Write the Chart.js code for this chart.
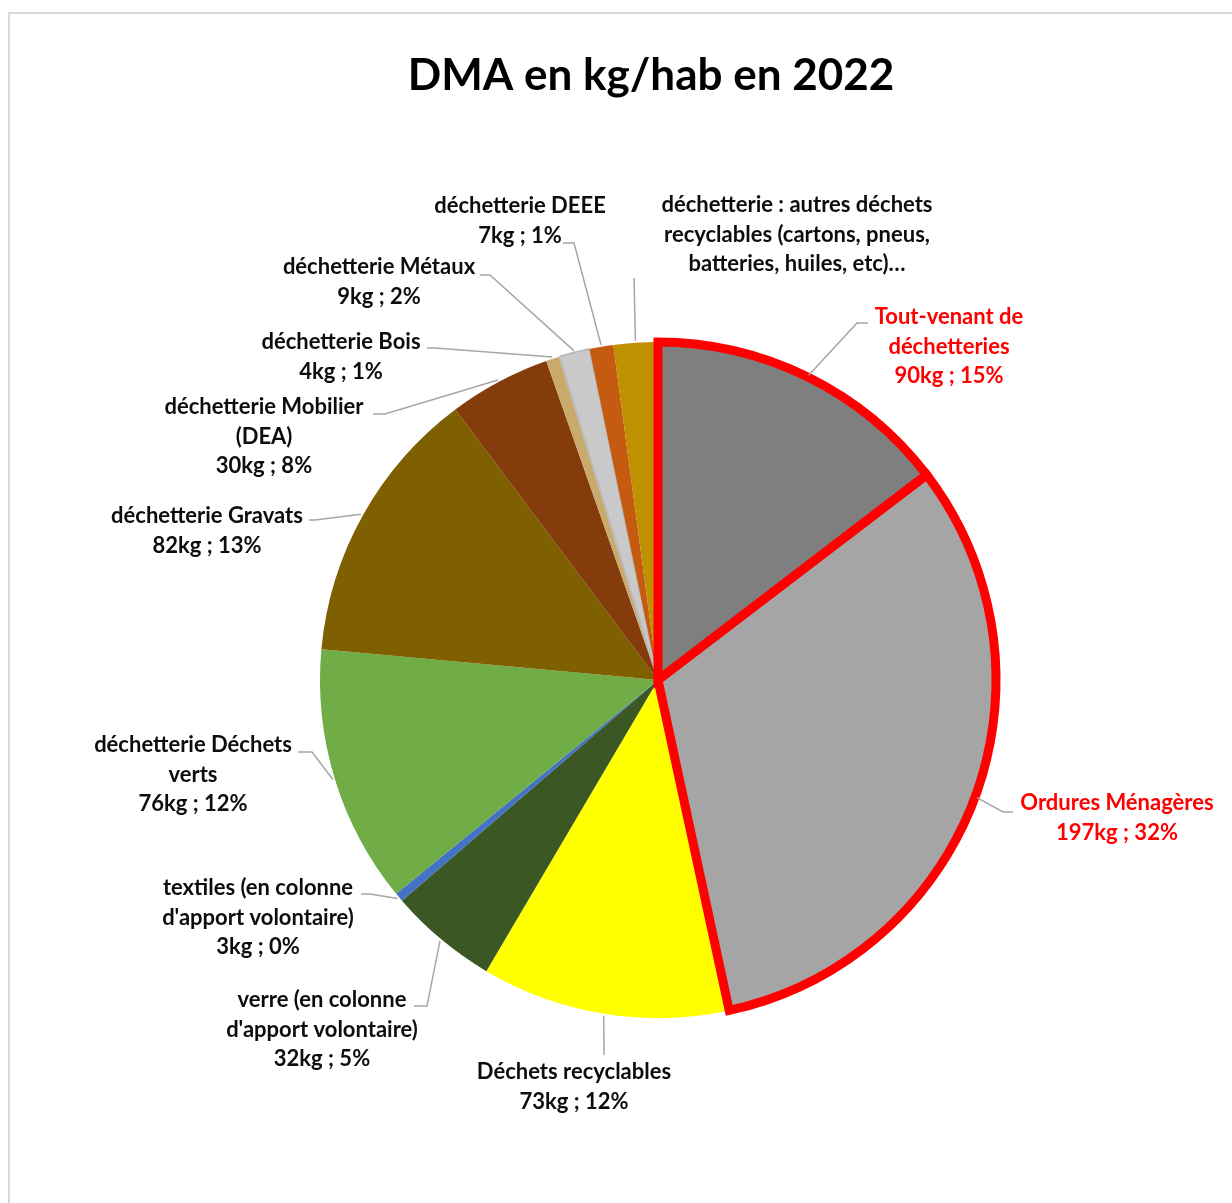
<!DOCTYPE html>
<html lang="fr">
<head>
<meta charset="utf-8">
<title>DMA en kg/hab en 2022</title>
<script src="https://cdn.jsdelivr.net/npm/chart.js@4.4.1/dist/chart.umd.min.js"></script>
<style>
  html, body { margin: 0; padding: 0; background: #fff; }
  canvas { display: block; }
</style>
</head>
<body>
<canvas id="dmaChart" width="1232" height="1203"></canvas>
<script>
// DONNÉES
const categories = [
    ['Tout-venant de', 'déchetteries'],
    ['Ordures Ménagères'],
    ['Déchets recyclables'],
    ['verre (en colonne', "d'apport volontaire)"],
    ['textiles (en colonne', "d'apport volontaire)"],
    ['déchetterie Déchets', 'verts'],
    ['déchetterie Gravats'],
    ['déchetterie Mobilier', '(DEA)'],
    ['déchetterie Bois'],
    ['déchetterie Métaux'],
    ['déchetterie DEEE'],
    ['déchetterie : autres déchets', 'recyclables (cartons, pneus,', 'batteries, huiles, etc)…']
];
const values = [90, 197, 73, 32, 2.6, 76, 82, 30, 4, 9, 7, 13];
const kgShown = [90, 197, 73, 32, 3, 76, 82, 30, 4, 9, 7, null];
const pctShown = [15, 32, 12, 5, 0, 12, 13, 8, 1, 2, 1, null];
const highlighted = [true, true, false, false, false, false, false, false, false, false, false, false];

const sliceColors = ['#7f7f7f', '#a5a5a5', '#ffff00', '#3a5724', '#4472c4', '#70ad47',
                     '#7f6000', '#843c0c', '#c9aa6c', '#c9c9c9', '#c55a11', '#bf9000'];

// position des étiquettes (décalage par rapport au centre du camembert)
const labelPos = [[291, -363], [459, 123], [-84, 392], [-336, 320], [-400, 208], [-465, 65],
                  [-451, -164], [-394, -273], [-317, -338], [-279, -413], [-138, -474], [139, -475]];
const leaderElbow = [[199, -357], [345, 132], [-54, 375], [-231, 326], [-288, 214], [-346, 72],
                     [-343, -160], [-273, -266], [-223, -332], [-168, -405], [-84, -437], [-24, -402]];
const leaderEnd = [[210, -357], [355, 132], [-54, 375], [-244, 326], [-297, 214], [-360, 72],
                   [-349, -160], [-285, -266], [-231, -332], [-178, -405], [-95, -437], [-24, -402]];

const FONT = 'Lato, "Open Sans", sans-serif';

const framePlugin = {
    id: 'frame',
    beforeDraw(chart) {
        const ctx = chart.ctx;
        ctx.save();
        ctx.fillStyle = '#ffffff';
        ctx.fillRect(0, 0, chart.width, chart.height);
        ctx.strokeStyle = '#d9d9d9';
        ctx.lineWidth = 2;
        ctx.strokeRect(9, 13, chart.width + 20, chart.height + 20);
        ctx.fillStyle = '#000000';
        ctx.font = 'bold 44px ' + FONT;
        ctx.textAlign = 'center';
        ctx.textBaseline = 'middle';
        ctx.fillText('DMA en kg/hab en 2022', 651, 76);
        ctx.restore();
    }
};

const labelPlugin = {
    id: 'sliceLabels',
    afterDatasetsDraw(chart) {
        const ctx = chart.ctx;
        const arcs = chart.getDatasetMeta(0).data;
        ctx.save();
        // bordures rouges
        arcs.forEach((arc, i) => {
            if (!highlighted[i]) return;
            const p = arc.getProps(['x', 'y', 'startAngle', 'endAngle', 'outerRadius']);
            ctx.beginPath();
            ctx.moveTo(p.x, p.y);
            ctx.arc(p.x, p.y, p.outerRadius, p.startAngle, p.endAngle);
            ctx.closePath();
            ctx.lineWidth = 9;
            ctx.lineJoin = 'miter';
            ctx.strokeStyle = '#ff0000';
            ctx.stroke();
        });
        // étiquettes et lignes de rappel
        arcs.forEach((arc, i) => {
            const p = arc.getProps(['x', 'y', 'startAngle', 'endAngle', 'outerRadius']);
            const mid = (p.startAngle + p.endAngle) / 2;
            const ax = p.x + Math.cos(mid) * (p.outerRadius + 2);
            const ay = p.y + Math.sin(mid) * (p.outerRadius + 2);
            ctx.beginPath();
            ctx.moveTo(ax, ay);
            ctx.lineTo(p.x + leaderElbow[i][0], p.y + leaderElbow[i][1]);
            ctx.lineTo(p.x + leaderEnd[i][0], p.y + leaderEnd[i][1]);
            ctx.lineWidth = 1.5;
            ctx.strokeStyle = '#a6a6a6';
            ctx.stroke();

            const lines = categories[i].slice();
            if (kgShown[i] !== null) lines.push(kgShown[i] + 'kg ; ' + pctShown[i] + '%');
            ctx.fillStyle = highlighted[i] ? '#ff0000' : '#0d0d0d';
            ctx.font = 'bold 22px ' + FONT;
            ctx.textAlign = 'center';
            ctx.textBaseline = 'middle';
            lines.forEach((t, k) => {
                ctx.fillText(t, p.x + labelPos[i][0], p.y + labelPos[i][1] + k * 29.5);
            });
        });
        ctx.restore();
    }
};

new Chart(document.getElementById('dmaChart').getContext('2d'), {
    type: 'pie',
    data: {
        labels: categories,
        datasets: [{
            data: values,
            backgroundColor: sliceColors,
            borderColor: sliceColors.map((c, i) => i === 9 ? '#bcbcbc' : c),
            borderWidth: sliceColors.map((c, i) => i === 9 ? 2 : 0)
        }]
    },
    options: {
        responsive: false,
        animation: false,
        radius: 338,
        layout: { padding: { left: 300, right: 216, top: 322, bottom: 165 } },
        plugins: { legend: { display: false }, tooltip: { enabled: false }, title: { display: false } }
    },
    plugins: [framePlugin, labelPlugin]
});
</script>
</body>
</html>
